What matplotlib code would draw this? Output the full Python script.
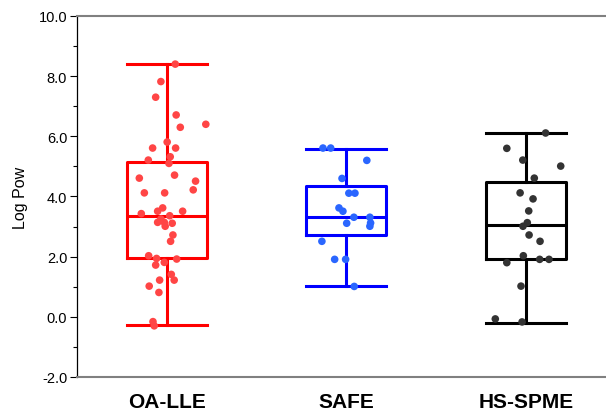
import matplotlib
matplotlib.use('Agg')
import matplotlib.pyplot as plt
from matplotlib.ticker import MultipleLocator, FormatStrFormatter

plt.rcParams['font.family'] = ['Liberation Sans', 'DejaVu Sans']

methods = ['OA-LLE', 'SAFE', 'HS-SPME']

# box statistics: whisker low, q1, median, q3, whisker high
whislo = [-0.27, 1.02, -0.21]
q1 = [1.94, 2.72, 1.92]
med = [3.36, 3.31, 3.05]
q3 = [5.16, 4.34, 4.49]
whishi = [8.40, 5.57, 6.10]

# individual values (log Pow) and their horizontal jitter
oa_lle = [8.40, 7.82, 7.30, 6.71, 6.40, 6.30, 5.81, 5.61, 5.61, 5.32, 5.21,
          5.10, 4.61, 4.71, 4.51, 4.22, 4.12, 4.12, 3.62, 3.51, 3.43, 3.51,
          3.36, 3.14, 3.14, 3.11, 3.01, 3.25, 2.72, 2.51, 2.03, 1.94, 1.92,
          1.81, 1.72, 1.41, 1.22, 1.22, 1.02, 0.81, -0.16, -0.30]
oa_lle_jit = [0.048, -0.032, -0.061, 0.053, 0.218, 0.076, 0.003, -0.078, 0.050,
              0.020, -0.102, 0.013, -0.152, 0.044, 0.161, 0.148, -0.124, -0.011,
              -0.022, 0.089, -0.141, -0.050, 0.017, -0.050, -0.013, 0.031,
              -0.008, -0.032, 0.035, 0.022, -0.100, -0.056, 0.056, -0.013,
              -0.061, 0.026, 0.042, -0.039, -0.097, -0.043, -0.076, -0.069]

safe = [5.61, 5.61, 5.20, 4.60, 4.11, 4.11, 3.62, 3.51, 3.31, 3.31, 3.12,
        3.01, 3.11, 2.51, 1.91, 1.91, 1.01]
safe_jit = [-0.130, -0.087, 0.114, -0.024, 0.014, 0.048, -0.041, -0.019, 0.042,
            0.131, 0.135, 0.131, 0.002, -0.136, -0.065, -0.004, 0.044]

hs_spme = [6.11, 5.60, 5.21, 5.01, 4.61, 4.12, 3.92, 3.52, 3.13, 3.01, 2.72,
           2.51, 2.03, 1.91, 1.91, 1.80, 1.02, -0.07, -0.17]
hs_spme_jit = [0.109, -0.107, -0.018, 0.193, 0.046, -0.033, 0.039, 0.015, 0.007,
               -0.017, 0.017, 0.078, -0.015, 0.076, 0.128, -0.107, -0.028,
               -0.171, -0.022]

values = [oa_lle, safe, hs_spme]
jitters = [oa_lle_jit, safe_jit, hs_spme_jit]
box_colors = ['#FF0000', '#0000FF', '#000000']
dot_colors = ['#FF4545', '#2A66FF', '#333333']

fig = plt.figure(figsize=(6.06, 4.14), dpi=100)
ax = fig.add_axes([0.127, 0.087, 0.873, 0.872])

for i in range(len(methods)):
    stats = [dict(whislo=whislo[i], q1=q1[i], med=med[i], q3=q3[i],
                  whishi=whishi[i], fliers=[])]
    c = box_colors[i]
    ax.bxp(stats, positions=[i], widths=0.445, showfliers=False,
           boxprops=dict(color=c, linewidth=2.2),
           medianprops=dict(color=c, linewidth=2.2),
           whiskerprops=dict(color=c, linewidth=2.2),
           capprops=dict(color=c, linewidth=2.2),
           capwidths=0.445, zorder=2)
    xs = [i + j for j in jitters[i]]
    ax.scatter(xs, values[i], s=30, color=dot_colors[i], edgecolors='none',
               zorder=3)

ax.set_xlim(-0.499, 2.445)
ax.set_ylim(-2, 10)
ax.set_xticks(range(len(methods)))
ax.set_xticklabels(methods, fontsize=15, fontweight='bold')
ax.tick_params(axis='x', length=0, pad=11)

ax.yaxis.set_major_locator(MultipleLocator(2))
ax.yaxis.set_minor_locator(MultipleLocator(1))
ax.yaxis.set_major_formatter(FormatStrFormatter('%.1f'))
ax.tick_params(axis='y', which='major', length=5, width=0.8, labelsize=10.5, pad=2)
ax.tick_params(axis='y', which='minor', length=3, width=0.8)
ax.set_ylabel('Log Pow', fontsize=11.5, labelpad=8)

ax.spines['right'].set_visible(False)
ax.spines['left'].set_color('black')
ax.spines['left'].set_linewidth(0.9)
for s in ['top', 'bottom']:
    ax.spines[s].set_color('#808080')
    ax.spines[s].set_linewidth(1.5)

fig.savefig('out.png', dpi=100)
